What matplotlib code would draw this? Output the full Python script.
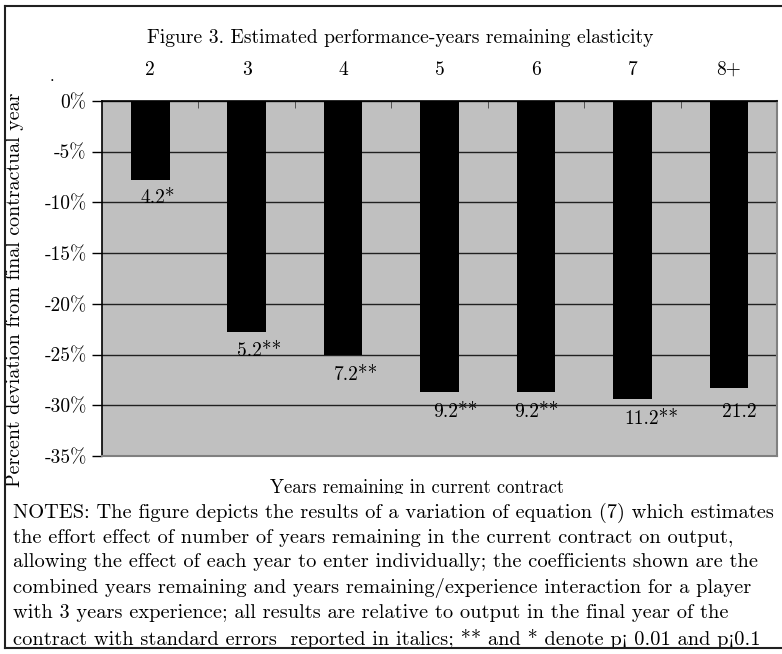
import matplotlib
matplotlib.use("Agg")
import numpy as np
import matplotlib.pyplot as plt
from matplotlib.patches import Rectangle
from matplotlib.lines import Line2D

plt.rcParams["font.family"] = ["cmr10", "DejaVu Serif"]
plt.rcParams["axes.unicode_minus"] = False

# data
years = ["2", "3", "4", "5", "6", "7", "8+"]
deviation = [-7.8, -22.75, -25.0, -28.65, -28.65, -29.4, -28.25]
std_err = ["4.2*", "5.2**", "7.2**", "9.2**", "9.2**", "11.2**", "21.2"]
yticks = [0, -5, -10, -15, -20, -25, -30, -35]

# where each standard-error label sits relative to its bar (points)
label_dx = [7, 7, 7, 9, -1.5, 8, 9]
label_dy = [-13, -14, -14.5, -15, -15, -14.5, -18]

# cmr10 keeps the old TeX layout, so "<" comes out as the inverted "!" of the original
notes = (
    "NOTES: The figure depicts the results of a variation of equation (7) which estimates\n"
    "the effort effect of number of years remaining in the current contract on output,\n"
    "allowing the effect of each year to enter individually; the coefficients shown are the\n"
    "combined years remaining and years remaining/experience interaction for a player\n"
    "with 3 years experience; all results are relative to output in the final year of the\n"
    "contract with standard errors  reported in italics; ** and * denote p< 0.01 and p<0.1"
)

W, H = 782, 654


def fx(px):
    return px / W


def fy(py):
    return 1 - py / H


def main():
    fig = plt.figure(figsize=(W / 100, H / 100), dpi=100)
    ax = fig.add_axes([fx(102), fy(456), fx(777) - fx(102), fy(101) - fy(456)])
    ax.set_facecolor("#c0c0c0")

    x = np.arange(len(years))
    ax.bar(x, deviation, width=0.4, color="black", zorder=3)
    for i, (v, lab) in enumerate(zip(deviation, std_err)):
        ax.annotate(lab, (i - 0.2, v), xytext=(label_dx[i], label_dy[i]),
                    textcoords="offset points", ha="left", va="center",
                    fontsize=14, zorder=4)

    ax.set_xlim(-0.5, len(years) - 0.5)
    ax.set_ylim(-35, 0)
    ax.set_yticks(yticks)
    ax.set_yticklabels([f"{v}%" for v in yticks])
    ax.tick_params(axis="y", direction="out", length=7, width=1, pad=4, labelsize=14)
    ax.yaxis.grid(True, color="#202020", linewidth=1)
    ax.set_axisbelow(True)

    ax.xaxis.tick_top()
    ax.set_xticks(x)
    ax.set_xticklabels(years)
    ax.tick_params(axis="x", which="major", length=0, pad=16, labelsize=14)
    ax.set_xticks(np.arange(0.5, len(years) - 1, 1), minor=True)
    ax.tick_params(axis="x", which="minor", direction="in", length=5,
                   color="#404040", top=True, bottom=False)

    for side in ["top", "left"]:
        ax.spines[side].set_color("black")
        ax.spines[side].set_linewidth(1.2)
    for side in ["right", "bottom"]:
        ax.spines[side].set_color("#808080")
        ax.spines[side].set_linewidth(1.5)

    fig.text(fx(400), fy(38), "Figure 3. Estimated performance-years remaining elasticity",
             ha="center", va="center", fontsize=14.1)
    fig.text(fx(52), fy(76), ".", ha="center", va="center", fontsize=12)
    fig.text(fx(15), fy(290), "Percent deviation from final contractual year",
             rotation=90, ha="center", va="center", fontsize=14.4)
    fig.text(fx(417), fy(488), "Years remaining in current contract",
             ha="center", va="center", fontsize=13.5, zorder=3)

    # the notes box hides the lower part of the axis title
    fig.patches.append(Rectangle((fx(6), fy(647)), 1 - fx(6), fy(494) - fy(647),
                                 transform=fig.transFigure, facecolor="white",
                                 edgecolor="none", zorder=4))
    fig.text(fx(13), fy(503), notes, ha="left", va="top", fontsize=14.7,
             linespacing=1.43, zorder=5)

    border = dict(color="#202020", linewidth=1.5, transform=fig.transFigure, zorder=6)
    fig.lines.append(Line2D([fx(5), 1], [fy(6), fy(6)], **border))
    fig.lines.append(Line2D([fx(5), fx(5)], [fy(6), fy(648)], **border))
    fig.lines.append(Line2D([fx(5), 1], [fy(648), fy(648)], **border))

    fig.savefig("out.png", dpi=100)


if __name__ == "__main__":
    main()
